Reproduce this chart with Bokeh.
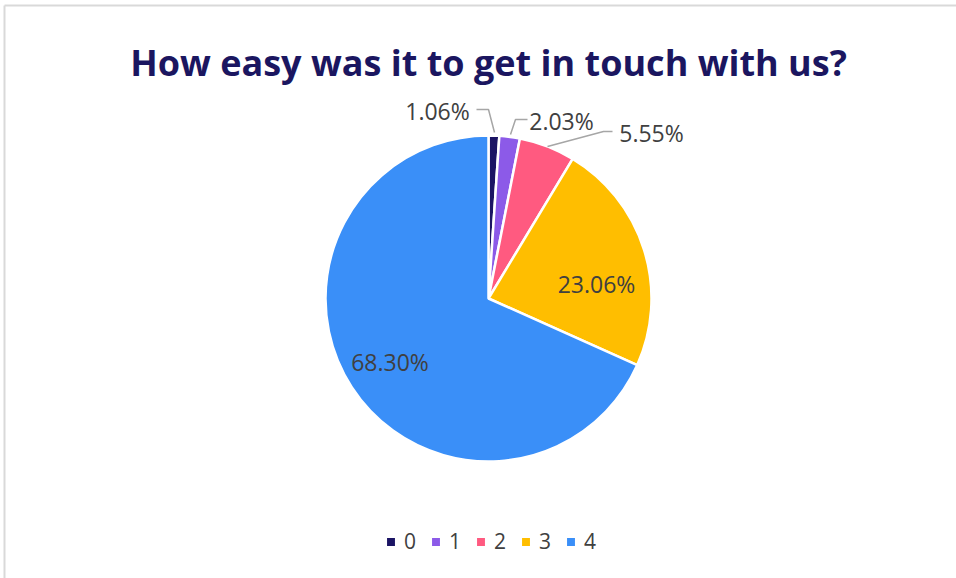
import numpy as np
from bokeh.plotting import figure
from bokeh.models import Range1d, Legend, LegendItem, ColumnDataSource
from bokeh.core.properties import value
from bokeh.embed import file_html
from bokeh.resources import INLINE

# ---- data ----
categories = ["0", "1", "2", "3", "4"]
shares = [1.06, 2.03, 5.55, 23.06, 68.30]
label_texts = ["1.06%", "2.03%", "5.55%", "23.06%", "68.30%"]
colors = ["#1b1464", "#8c5ae8", "#ff5a80", "#ffbe00", "#3a8ff8"]
title_text = "How easy was it to get in touch with us?"

# ---- layout (page pixel coordinates; y measured downward from page top) ----
W, H = 956, 578
cx_pg, cy_pg, R = 488, 298, 163
label_pos_pg = [(437, 110), (561, 120), (651, 132.5), (596, 283), (389.5, 361)]  # text baselines
leader_pg = [
    [(476, 109), (488, 109), (494, 132)],
    [(527, 119), (515, 119), (510, 134)],
    [(612, 131), (603, 131), (547, 146)],
]


def Y(y_pg):
    return H - y_pg


p = figure(width=W, height=H, output_backend="svg", toolbar_location=None,
           x_range=Range1d(0, W), y_range=Range1d(0, H), min_border=0)
p.axis.visible = False
p.grid.visible = False
p.outline_line_color = None
p.background_fill_color = "white"
p.border_fill_color = "white"

# chart border (top and left edges)
p.segment(x0=[4, 4], y0=[Y(5), Y(5)], x1=[W, 4], y1=[Y(5), Y(H)],
          line_color="#d9d9d9", line_width=2)

# wedges, clockwise from 12 o'clock
frac = np.array(shares) / sum(shares)
cum = np.concatenate([[0], np.cumsum(frac)])
start = np.pi / 2 - 2 * np.pi * cum[:-1]
end = np.pi / 2 - 2 * np.pi * cum[1:]
src = ColumnDataSource(dict(cat=categories, start=start, end=end, color=colors))
wr = p.wedge(x=cx_pg, y=Y(cy_pg), radius=R, start_angle="start", end_angle="end",
             direction="clock", fill_color="color", line_color="white",
             line_width=2.5, source=src)

# leader lines
for pts in leader_pg:
    p.line([q[0] for q in pts], [Y(q[1]) for q in pts], line_color="#a6a6a6", line_width=1.5)

# data labels
p.text(x=[q[0] for q in label_pos_pg], y=[Y(q[1]) for q in label_pos_pg], text=label_texts,
       text_align="center", text_baseline="alphabetic", text_font=value("Open Sans"),
       text_font_size="23px", text_color="#404040")

# title
p.text(x=[488], y=[Y(62)], text=[title_text], text_align="center", text_baseline="alphabetic",
       text_font=value("Open Sans"), text_font_style="bold", text_font_size="36px",
       text_color="#1b1660")

legend = Legend(items=[LegendItem(label=c, renderers=[wr], index=i) for i, c in enumerate(categories)],
                orientation="horizontal", location=(384, 23),
                glyph_width=13, glyph_height=13, label_standoff=7, spacing=13,
                label_width=10, padding=0, margin=0, border_line_color=None,
                background_fill_alpha=0, label_text_font="Open Sans",
                label_text_font_size="21px", label_text_color="#404040",
                label_height=20)
p.add_layout(legend, "center")

open("out.html", "w").write(file_html(p, INLINE))
